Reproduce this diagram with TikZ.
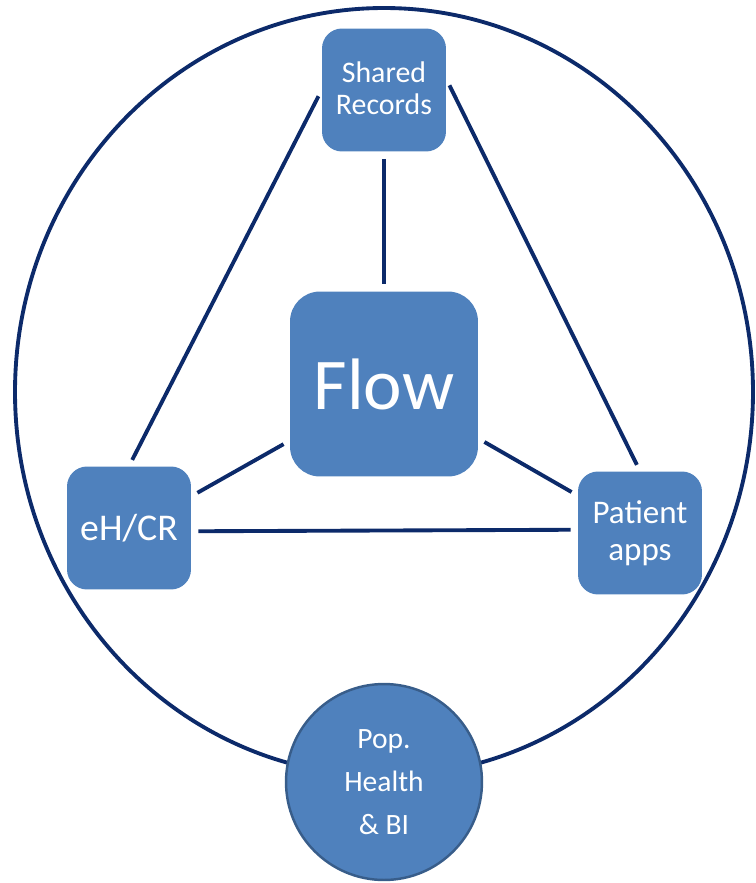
\documentclass[tikz,border=0pt]{standalone}
\usepackage{fontspec}
\setmainfont{Carlito}
\definecolor{boxblue}{HTML}{4F81BD}
\definecolor{navy}{HTML}{0C2A6A}
\definecolor{rimblue}{HTML}{385D8A}

\begin{document}
\begin{tikzpicture}[x=0.02cm,y=-0.02cm,
  box/.style={fill=boxblue,rounded corners=0.4cm,align=center,text=white,
    minimum width=2.48cm,minimum height=2.46cm,inner sep=0pt},
  edge/.style={draw=navy,line width=2.2pt,shorten <=0.14cm,shorten >=0.14cm}
]
  \useasboundingbox (0,0) rectangle (756,883);
  \draw[navy,line width=2.2pt] (384,392) ellipse [x radius=369,y radius=384];

  \node[box,font=\fontsize{17}{18.5}\selectfont] (shared) at (384,90)
    {\raisebox{2pt}{Shared}\\\raisebox{2pt}{Records}};
  \node[box,minimum width=3.76cm,minimum height=3.7cm,rounded corners=0.6cm,
    font=\fontsize{41.5}{48}\selectfont] (flow) at (384,384) {Flow};
  \node[box,font=\fontsize{21.5}{24}\selectfont] (ehcr) at (129,528) {eH/CR};
  \node[box,font=\fontsize{18.8}{21}\selectfont] (patient) at (640,533) {Patient\\apps};
  \node[circle,fill=boxblue,draw=rimblue,line width=1.4pt,minimum size=3.92cm,
    text=white,align=center,font=\fontsize{16.8}{24.4}\selectfont] (pop) at (384,782)
    {Pop.\\Health\\\& BI};

  \draw[edge] (shared) -- (flow);
  \draw[edge] (shared.west) -- (ehcr.north);
  \draw[edge] (shared.10) -- (patient.north);
  \draw[edge] (flow.211) -- (ehcr.27);
  \draw[edge] (flow.330) -- (patient.149);
  \draw[edge] (ehcr.-3) -- (patient.177);
\end{tikzpicture}
\end{document}
